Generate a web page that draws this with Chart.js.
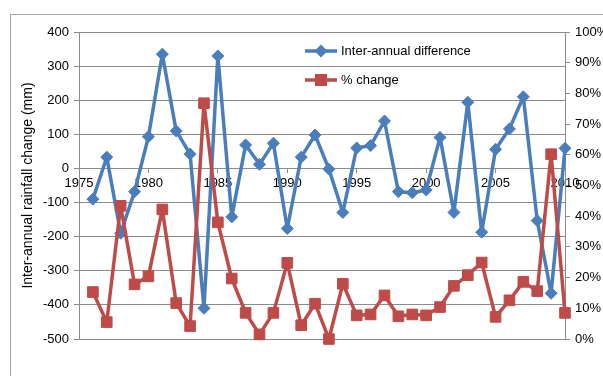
<!DOCTYPE html>
<html>
<head>
<meta charset="utf-8">
<script src="https://cdn.jsdelivr.net/npm/chart.js@4.4.1/dist/chart.umd.min.js"></script>
<style>
  html, body { margin: 0; padding: 0; background: #fff; overflow: hidden; }
  #wrap { position: relative; width: 603px; height: 376px; overflow: hidden; }
  #frame { position: absolute; left: 10px; top: 14px; width: 700px; height: 500px; border: 1px solid #a6a6a6; box-sizing: border-box; }
  #c { position: absolute; left: 0; top: 0; }
</style>
</head>
<body>
<div id="wrap">
  <div id="frame"></div>
  <canvas id="c" width="603" height="376"></canvas>
</div>
<script>
// Years of record
const years = [1976, 1977, 1978, 1979, 1980, 1981, 1982, 1983, 1984, 1985,
               1986, 1987, 1988, 1989, 1990, 1991, 1992, 1993, 1994, 1995,
               1996, 1997, 1998, 1999, 2000, 2001, 2002, 2003, 2004, 2005,
               2006, 2007, 2008, 2009, 2010];

// Difference in rainfall from the previous year (mm)
const interAnnualDiff = [-90, 33, -190, -68, 93, 335, 110, 42, -410, 330,
                         -142, 69, 12, 74, -176, 33, 98, -2, -129, 60,
                         67, 139, -68, -71, -63, 91, -129, 194, -187, 56,
                         116, 210, -153, -366, 59];

// Same change expressed as a percentage
const pctChange = [15.3, 5.5, 43.4, 17.8, 20.4, 42.2, 11.7, 4.2, 76.8, 38.0,
                   19.7, 8.5, 1.5, 8.5, 24.8, 4.5, 11.5, 0.0, 18.0, 7.7,
                   8.0, 14.2, 7.4, 8.0, 7.7, 10.4, 17.3, 20.8, 24.9, 7.2,
                   12.6, 18.6, 15.6, 60.2, 8.5];

// Axis ticks
const xTickLabels = ['1975', '1980', '1985', '1990', '1995', '2000', '2005', '2010'];
const xTickValues = [1975, 1980, 1985, 1990, 1995, 2000, 2005, 2010];

const BLUE = '#4a7ebb';
const RED = '#be4b48';
const GRID = '#8c8c8c';
const FONT = 'Liberation Sans, Arial, sans-serif';

// Legend drawn inside the plot area, two stacked rows
const innerLegend = {
  id: 'innerLegend',
  afterDraw(chart) {
    const ctx = chart.ctx;
    const x0 = 305, x1 = 337, textX = 341;
    const rows = [51, 80];
    const order = [0, 1];
    ctx.save();
    order.forEach((di, i) => {
      const ds = chart.data.datasets[di];
      const y = rows[i];
      ctx.strokeStyle = ds.borderColor;
      ctx.lineWidth = 3.5;
      ctx.beginPath();
      ctx.moveTo(x0, y);
      ctx.lineTo(x1, y);
      ctx.stroke();
      ctx.fillStyle = ds.borderColor;
      ctx.strokeStyle = ds.borderColor;
      Chart.helpers.drawPoint(ctx, {
        pointStyle: ds.pointStyle,
        radius: ds.pointStyle === 'rect' ? 6 : 4,
        rotation: 0,
        borderWidth: 1
      }, (x0 + x1) / 2, y);
      ctx.fillStyle = '#000';
      ctx.font = '13px ' + FONT;
      ctx.textBaseline = 'middle';
      ctx.textAlign = 'left';
      ctx.fillText(ds.label, textX, y);
    });
    ctx.restore();
  }
};

new Chart(document.getElementById('c'), {
  type: 'line',
  data: {
    datasets: [
      {
        label: 'Inter-annual difference',
        data: years.map((y, i) => ({ x: y, y: interAnnualDiff[i] })),
        yAxisID: 'y',
        borderColor: BLUE,
        backgroundColor: BLUE,
        borderWidth: 3.5,
        borderJoinStyle: 'round',
        pointStyle: 'rectRot',
        pointRadius: 6,
        pointBorderWidth: 1,
        tension: 0,
        clip: false,
        order: 2
      },
      {
        label: '% change',
        data: years.map((y, i) => ({ x: y, y: pctChange[i] })),
        yAxisID: 'y1',
        borderColor: RED,
        backgroundColor: RED,
        borderWidth: 3.5,
        borderJoinStyle: 'round',
        pointStyle: 'rect',
        pointRadius: 7.5,
        pointBorderWidth: 1,
        tension: 0,
        clip: false,
        order: 1
      }
    ]
  },
  options: {
    responsive: false,
    animation: false,
    events: [],
    layout: { padding: { top: 32, bottom: 37, left: 0, right: 0 } },
    plugins: { legend: { display: false }, tooltip: { enabled: false } },
    scales: {
      x: {
        type: 'linear',
        position: { y: 0 },
        min: 1975,
        max: 2010,
        afterBuildTicks: (s) => { s.ticks = xTickValues.map(v => ({ value: v })); },
        ticks: {
          autoSkip: false,
          maxRotation: 0,
          padding: 3,
          color: '#000',
          font: { family: FONT, size: 13 },
          callback: (v) => xTickLabels[xTickValues.indexOf(v)]
        },
        grid: { display: true, drawOnChartArea: false, drawTicks: true, tickLength: 4, color: GRID },
        border: { display: true, color: GRID }
      },
      y: {
        position: 'left',
        min: -500,
        max: 400,
        afterFit: (s) => { s.width = 79; },
        ticks: {
          stepSize: 100,
          padding: 5,
          color: '#000',
          font: { family: FONT, size: 13 }
        },
        grid: { color: GRID, tickLength: 5, lineWidth: 1 },
        border: { color: GRID },
        title: {
          display: true,
          text: 'Inter-annual rainfall change (mm)',
          color: '#000',
          font: { family: FONT, size: 14 },
          padding: { top: 20, bottom: 0 }
        }
      },
      y1: {
        position: 'right',
        min: 0,
        max: 100,
        afterFit: (s) => { s.width = 38; },
        ticks: {
          stepSize: 10,
          padding: 5,
          color: '#000',
          font: { family: FONT, size: 13 },
          callback: (v) => v + '%'
        },
        grid: { drawOnChartArea: false, drawTicks: true, tickLength: 5, color: GRID },
        border: { color: GRID }
      }
    }
  },
  plugins: [innerLegend]
});
</script>
</body>
</html>
